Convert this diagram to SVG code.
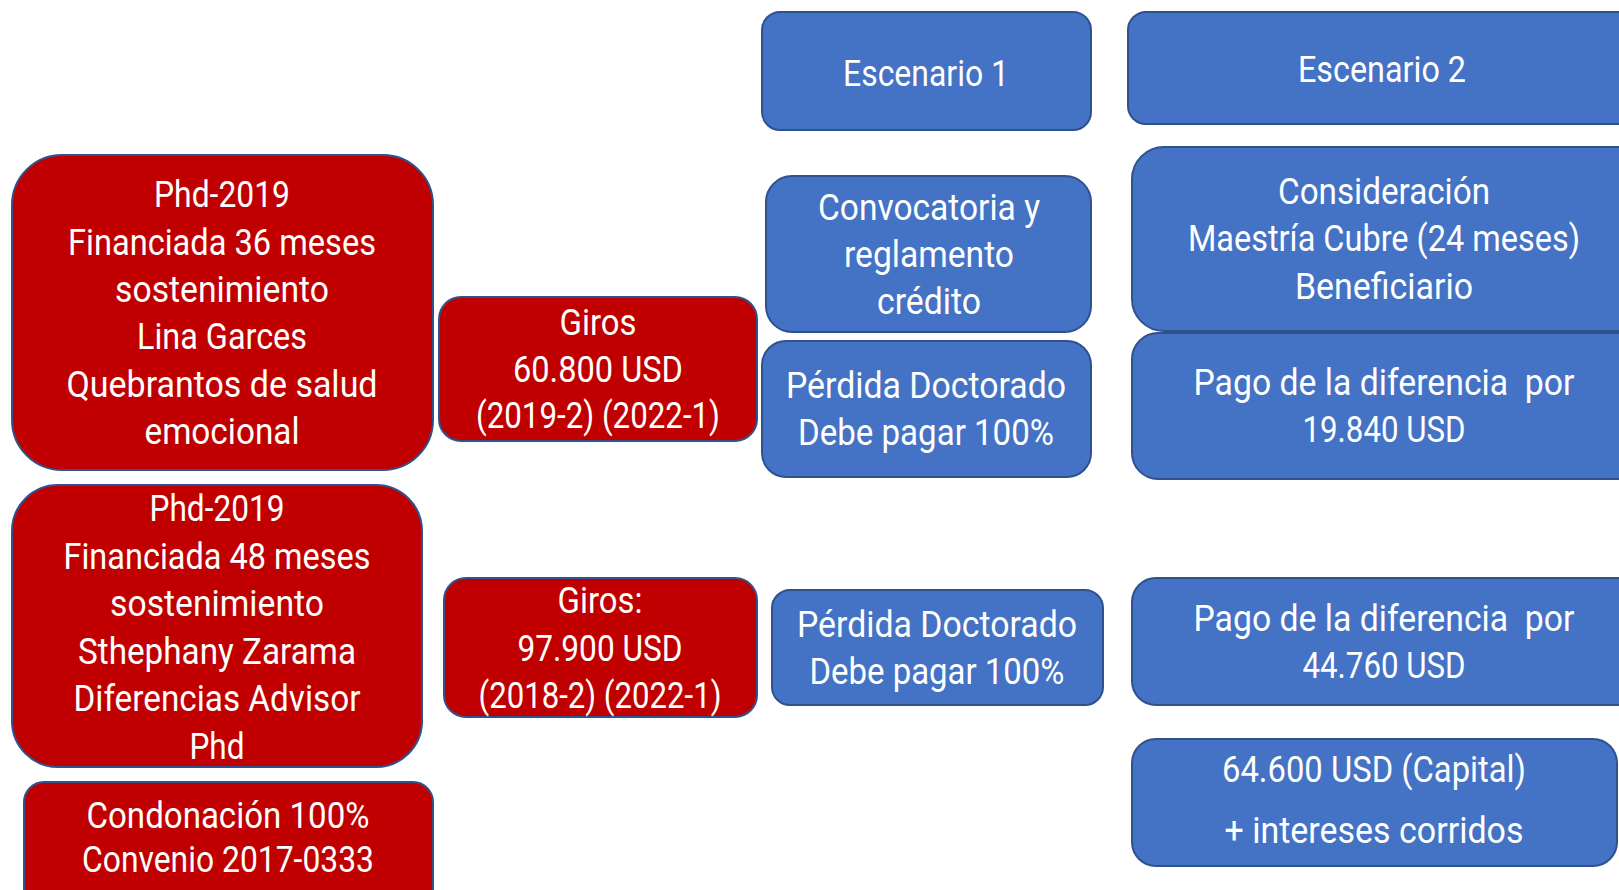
<svg xmlns="http://www.w3.org/2000/svg" width="1619" height="890" viewBox="0 0 1619 890">
<style>
.red{fill:#C00000;stroke:#2F528F;stroke-width:2}
.blue{fill:#4472C4;stroke:#2F528F;stroke-width:2}
text{font-family:Roboto,"Liberation Sans",sans-serif;font-size:37px;fill:#FFFFFF;text-anchor:middle}
</style>
<rect width="1619" height="890" fill="#FFFFFF"/>
<g id="connectors"></g>
<g id="red1">
<rect class="red" x="12" y="155" width="421" height="315" rx="50"/>
<text x="222" y="207" textLength="136" lengthAdjust="spacingAndGlyphs">Phd-2019</text>
<text x="222" y="255" textLength="308" lengthAdjust="spacingAndGlyphs">Financiada 36 meses</text>
<text x="222" y="302" textLength="214" lengthAdjust="spacingAndGlyphs">sostenimiento</text>
<text x="222" y="349" textLength="170" lengthAdjust="spacingAndGlyphs">Lina Garces</text>
<text x="222" y="397" textLength="311" lengthAdjust="spacingAndGlyphs">Quebrantos de salud</text>
<text x="222" y="444" textLength="155" lengthAdjust="spacingAndGlyphs">emocional</text>
</g>
<g id="red2">
<rect class="red" x="12" y="485" width="410" height="282" rx="46"/>
<text x="217" y="521" textLength="135" lengthAdjust="spacingAndGlyphs">Phd-2019</text>
<text x="217" y="569" textLength="307" lengthAdjust="spacingAndGlyphs">Financiada 48 meses</text>
<text x="217" y="616" textLength="214" lengthAdjust="spacingAndGlyphs">sostenimiento</text>
<text x="217" y="664" textLength="278" lengthAdjust="spacingAndGlyphs">Sthephany Zarama</text>
<text x="217" y="711" textLength="287" lengthAdjust="spacingAndGlyphs">Diferencias Advisor</text>
<text x="217" y="759" textLength="55" lengthAdjust="spacingAndGlyphs">Phd</text>
</g>
<g id="condonacion">
<rect class="red" x="24" y="782" width="409" height="130" rx="20"/>
<text x="228" y="828" textLength="283" lengthAdjust="spacingAndGlyphs">Condonación 100%</text>
<text x="228" y="872" textLength="292" lengthAdjust="spacingAndGlyphs">Convenio 2017-0333</text>
</g>
<g id="giros1">
<rect class="red" x="439" y="297" width="318" height="144" rx="22"/>
<text x="598" y="335" textLength="77" lengthAdjust="spacingAndGlyphs">Giros</text>
<text x="598" y="382" textLength="170" lengthAdjust="spacingAndGlyphs">60.800 USD</text>
<text x="598" y="428" textLength="244" lengthAdjust="spacingAndGlyphs">(2019-2) (2022-1)</text>
</g>
<g id="giros2">
<rect class="red" x="444" y="578" width="313" height="139" rx="22"/>
<text x="600" y="613" textLength="85" lengthAdjust="spacingAndGlyphs">Giros:</text>
<text x="600" y="661" textLength="165" lengthAdjust="spacingAndGlyphs">97.900 USD</text>
<text x="600" y="708" textLength="243" lengthAdjust="spacingAndGlyphs">(2018-2) (2022-1)</text>
</g>
<g id="escenario1">
<rect class="blue" x="762" y="12" width="329" height="118" rx="18"/>
<text x="926" y="86" textLength="166" lengthAdjust="spacingAndGlyphs">Escenario 1</text>
</g>
<g id="escenario2">
<rect class="blue" x="1128" y="12" width="520" height="112" rx="18"/>
<text x="1382" y="82" textLength="168" lengthAdjust="spacingAndGlyphs">Escenario 2</text>
</g>
<g id="convocatoria">
<rect class="blue" x="766" y="176" width="325" height="156" rx="26"/>
<text x="929" y="220" textLength="222" lengthAdjust="spacingAndGlyphs">Convocatoria y</text>
<text x="929" y="267" textLength="170" lengthAdjust="spacingAndGlyphs">reglamento</text>
<text x="929" y="314" textLength="104" lengthAdjust="spacingAndGlyphs">crédito</text>
</g>
<g id="consideracion">
<rect class="blue" x="1132" y="147" width="520" height="184" rx="32"/>
<text x="1384" y="204" textLength="212" lengthAdjust="spacingAndGlyphs">Consideración</text>
<text x="1384" y="251" textLength="392" lengthAdjust="spacingAndGlyphs">Maestría Cubre (24 meses)</text>
<text x="1384" y="299" textLength="178" lengthAdjust="spacingAndGlyphs">Beneficiario</text>
</g>
<g id="perdida1">
<rect class="blue" x="762" y="341" width="329" height="136" rx="24"/>
<text x="926" y="398" textLength="280" lengthAdjust="spacingAndGlyphs">Pérdida Doctorado</text>
<text x="926" y="445" textLength="256" lengthAdjust="spacingAndGlyphs">Debe pagar 100%</text>
</g>
<g id="pago1">
<rect class="blue" x="1132" y="333" width="520" height="146" rx="26"/>
<text x="1384" y="395" textLength="381" lengthAdjust="spacingAndGlyphs" xml:space="preserve">Pago de la diferencia  por</text>
<text x="1384" y="442" textLength="163" lengthAdjust="spacingAndGlyphs">19.840 USD</text>
</g>
<g id="perdida2">
<rect class="blue" x="772" y="590" width="331" height="115" rx="18"/>
<text x="937" y="637" textLength="280" lengthAdjust="spacingAndGlyphs">Pérdida Doctorado</text>
<text x="937" y="684" textLength="255" lengthAdjust="spacingAndGlyphs">Debe pagar 100%</text>
</g>
<g id="pago2">
<rect class="blue" x="1132" y="578" width="520" height="127" rx="24"/>
<text x="1384" y="631" textLength="381" lengthAdjust="spacingAndGlyphs" xml:space="preserve">Pago de la diferencia  por</text>
<text x="1384" y="678" textLength="163" lengthAdjust="spacingAndGlyphs">44.760 USD</text>
</g>
<g id="capital">
<rect class="blue" x="1132" y="739" width="485" height="127" rx="24"/>
<text x="1374" y="782" textLength="304" lengthAdjust="spacingAndGlyphs">64.600 USD (Capital)</text>
<text x="1374" y="843" textLength="299" lengthAdjust="spacingAndGlyphs">+ intereses corridos</text>
</g>
</svg>
